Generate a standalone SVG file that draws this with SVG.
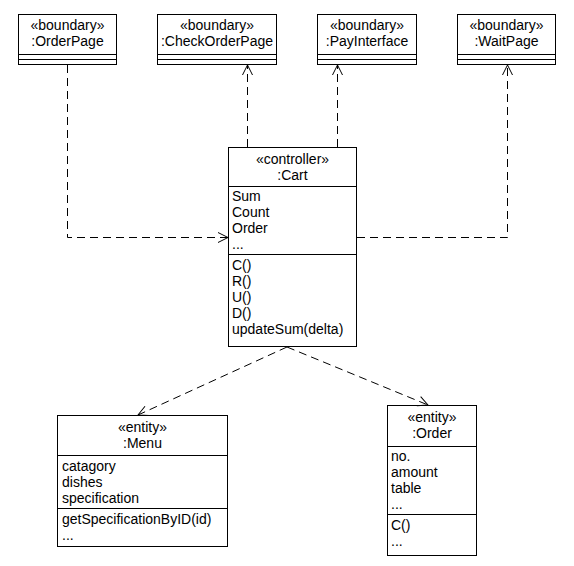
<svg xmlns="http://www.w3.org/2000/svg" width="574" height="566" viewBox="0 0 574 566">
<defs>
<style>
.box{fill:#fff;stroke:#000;stroke-width:1}
.ln{stroke:#000;stroke-width:1;fill:none}
text{font-family:"Liberation Sans",Arial,sans-serif;font-size:14px;fill:#000}
.c{text-anchor:middle}
.dep{stroke:#000;stroke-width:1;fill:none;stroke-dasharray:8,5;marker-end:url(#open)}
</style>
<marker id="open" markerUnits="userSpaceOnUse" viewBox="-12 -7 14 14" markerWidth="14" markerHeight="14" refX="0" refY="0" orient="auto">
<path d="M-10,-5 L0,0 L-10,5" fill="none" stroke="#000" stroke-width="1"/>
</marker>
</defs>
<rect width="574" height="566" fill="#fff"/>

<g id="OrderPage">
<rect class="box" x="18.5" y="14.5" width="98" height="50"/>
<line class="ln" x1="18.5" y1="54.5" x2="116.5" y2="54.5"/>
<line class="ln" x1="18.5" y1="59.5" x2="116.5" y2="59.5"/>
<text class="c" x="67.5" y="30">«boundary»</text>
<text class="c" x="67.5" y="46">:OrderPage</text>
</g>

<g id="CheckOrderPage">
<rect class="box" x="157.5" y="14.5" width="119" height="50"/>
<line class="ln" x1="157.5" y1="54.5" x2="276.5" y2="54.5"/>
<line class="ln" x1="157.5" y1="59.5" x2="276.5" y2="59.5"/>
<text class="c" x="217" y="30">«boundary»</text>
<text class="c" x="217" y="46">:CheckOrderPage</text>
</g>

<g id="PayInterface">
<rect class="box" x="317.5" y="14.5" width="99" height="50"/>
<line class="ln" x1="317.5" y1="54.5" x2="416.5" y2="54.5"/>
<line class="ln" x1="317.5" y1="59.5" x2="416.5" y2="59.5"/>
<text class="c" x="367" y="30">«boundary»</text>
<text class="c" x="367" y="46">:PayInterface</text>
</g>

<g id="WaitPage">
<rect class="box" x="457.5" y="14.5" width="98" height="50"/>
<line class="ln" x1="457.5" y1="54.5" x2="555.5" y2="54.5"/>
<line class="ln" x1="457.5" y1="59.5" x2="555.5" y2="59.5"/>
<text class="c" x="506.5" y="30">«boundary»</text>
<text class="c" x="506.5" y="46">:WaitPage</text>
</g>

<g id="Cart">
<rect class="box" x="228.5" y="147.5" width="128" height="199"/>
<line class="ln" x1="228.5" y1="186.5" x2="356.5" y2="186.5"/>
<line class="ln" x1="228.5" y1="254.5" x2="356.5" y2="254.5"/>
<text class="c" x="292.5" y="164">«controller»</text>
<text class="c" x="292.5" y="180">:Cart</text>
<text x="232" y="201">Sum</text>
<text x="232" y="217">Count</text>
<text x="232" y="233">Order</text>
<text x="232" y="249">...</text>
<text x="232" y="270">C()</text>
<text x="232" y="286">R()</text>
<text x="232" y="302">U()</text>
<text x="232" y="318">D()</text>
<text x="232" y="334">updateSum(delta)</text>
</g>

<g id="Menu">
<rect class="box" x="57.5" y="415.5" width="170" height="131"/>
<line class="ln" x1="57.5" y1="455.5" x2="227.5" y2="455.5"/>
<line class="ln" x1="57.5" y1="508.5" x2="227.5" y2="508.5"/>
<text class="c" x="142.5" y="432">«entity»</text>
<text class="c" x="142.5" y="448">:Menu</text>
<text x="62" y="471">catagory</text>
<text x="62" y="487">dishes</text>
<text x="62" y="503">specification</text>
<text x="62" y="524">getSpecificationByID(id)</text>
<text x="62" y="540">...</text>
</g>

<g id="Order">
<rect class="box" x="387.5" y="405.5" width="89" height="150"/>
<line class="ln" x1="387.5" y1="446.5" x2="476.5" y2="446.5"/>
<line class="ln" x1="387.5" y1="514.5" x2="476.5" y2="514.5"/>
<text class="c" x="432" y="422">«entity»</text>
<text class="c" x="432" y="438">:Order</text>
<text x="391" y="461">no.</text>
<text x="391" y="477">amount</text>
<text x="391" y="493">table</text>
<text x="391" y="509">...</text>
<text x="391" y="530">C()</text>
<text x="391" y="546">...</text>
</g>

<g id="connectors">
<path class="dep" d="M67.5,65 L67.5,237.5 L228,237.5"/>
<path class="dep" d="M247.5,147 L247.5,65"/>
<path class="dep" d="M337.5,147 L337.5,65"/>
<path class="dep" d="M357,237.5 L507.5,237.5 L507.5,65"/>
<path class="dep" d="M287,347 L138,415"/>
<path class="dep" d="M287,347 L428,405"/>
</g>
</svg>
